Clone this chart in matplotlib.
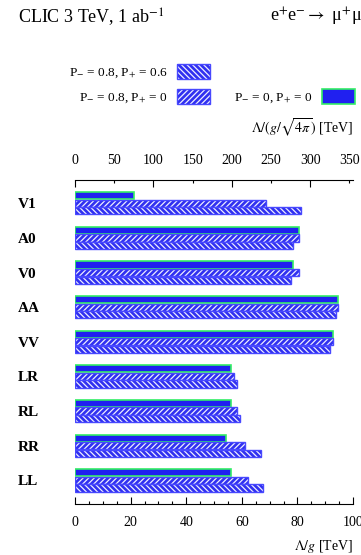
"""CLIC 3 TeV kontakt-operator erişimi: yatay çubuk grafik."""

import numpy as np
import matplotlib

matplotlib.use("Agg")

import matplotlib.pyplot as plt
from matplotlib.ticker import MultipleLocator, FixedLocator, ScalarFormatter
from matplotlib.legend_handler import HandlerTuple

plt.rcParams["font.family"] = "Liberation Serif"
plt.rcParams["mathtext.fontset"] = "stix"
plt.rcParams["hatch.linewidth"] = 0.9

OPERATORS = ["V1", "A0", "V0", "AA", "VV", "LR", "RL", "RR", "LL"]
# Lambda/g [TeV], üç polarizasyon durumu
POL_0_0 = [21.2, 80.4, 78.3, 94.7, 92.7, 56.2, 56.2, 54.2, 56.2]
POL_08_0 = [68.7, 80.4, 80.4, 94.7, 92.7, 57.2, 58.4, 61.3, 62.4]
POL_08_06 = [81.3, 78.5, 77.6, 93.9, 91.7, 58.4, 59.4, 66.8, 67.8]

BLUE = "#2020f0"
GREEN = "#33ee66"
SQRT4PI = np.sqrt(4 * np.pi)

fig = plt.figure(figsize=(3.61, 5.55), dpi=100)
ax = fig.add_axes([75 / 361, 51 / 555, 278 / 361, 324 / 555])

y = np.arange(len(OPERATORS))
h = 0.21

solid = ax.barh(y - 0.22, POL_0_0, height=h, color=BLUE, edgecolor=GREEN, linewidth=1.2)


def hatched_bar(values, offset, hatch):
    fill = ax.barh(y + offset, values, height=h, color="#3030f0", edgecolor="#eeeeff",
                   linewidth=0, hatch=hatch)
    edge = ax.barh(y + offset, values, height=h, fill=False, edgecolor="#4848ff",
                   linewidth=1.0)
    return fill, edge


mid = hatched_bar(POL_08_0, 0.0, "//////")
low = hatched_bar(POL_08_06, 0.22, "\\\\\\\\\\\\")

ax.set_xlim(0, 100)
ax.set_ylim(8.68, -0.67)
ax.set_yticks(y)
ax.set_yticklabels(OPERATORS, fontsize=11, fontweight="bold")
for lab in ax.get_yticklabels():
    lab.set_ha("left")
ax.tick_params(axis="y", length=0, pad=41)

for side in ("left", "right", "top"):
    ax.spines[side].set_visible(False)
ax.spines["bottom"].set_linewidth(0.8)

ax.xaxis.set_major_locator(MultipleLocator(20))
ax.xaxis.set_minor_locator(MultipleLocator(5))
ax.tick_params(axis="x", which="major", direction="in", length=5, width=0.8,
               labelsize=10, pad=9)
ax.tick_params(axis="x", which="minor", direction="in", length=2.2, width=0.8)
ax.set_xlabel(r"$\Lambda/g$ [TeV]", loc="right", fontsize=10, labelpad=6)

secax = ax.secondary_xaxis("top", functions=(lambda v: v * SQRT4PI, lambda v: v / SQRT4PI))
secax.xaxis.set_major_locator(FixedLocator([0, 100, 200, 300]))
secax.xaxis.set_minor_locator(FixedLocator([50, 150, 250, 350]))
secax.xaxis.set_minor_formatter(ScalarFormatter())
secax.tick_params(axis="x", which="major", direction="in", length=5, width=0.8,
                  labelsize=10, pad=9)
secax.tick_params(axis="x", which="minor", direction="in", length=2.2, width=0.8,
                  labelsize=10, pad=9)
secax.spines["top"].set_linewidth(0.8)
secax.set_xlabel(r"$\Lambda/(g/\sqrt{4\pi})$ [TeV]", loc="right", fontsize=10, labelpad=15)

fig.text(18 / 361, 1 - 17 / 555, "CLIC 3 TeV, 1 ab$^{-1}$", fontsize=13, va="center")
fig.text(270 / 361, 1 - 17 / 555, "e$^{+}$e$^{-}$$\\rightarrow$ μ$^{+}$μ$^{-}$",
         fontsize=13, va="center")

overlay = {tuple: HandlerTuple(ndivide=1, pad=0)}
leg_kw = dict(frameon=False, markerfirst=False, borderpad=0, borderaxespad=0,
              handlelength=2.5, handleheight=1.35, handletextpad=0.7,
              prop={"size": 9.5}, loc="center right", handler_map=overlay)
fig.legend([low], ["P$_{-}$ = 0.8, P$_{+}$ = 0.6"],
           bbox_to_anchor=(210 / 361, 1 - 72 / 555), **leg_kw)
fig.legend([mid], ["P$_{-}$ = 0.8, P$_{+}$ = 0"],
           bbox_to_anchor=(210 / 361, 1 - 97 / 555), **leg_kw)
fig.legend([solid], ["P$_{-}$ = 0, P$_{+}$ = 0"],
           bbox_to_anchor=(355 / 361, 1 - 97 / 555), **leg_kw)

fig.savefig("out.png", dpi=100)
